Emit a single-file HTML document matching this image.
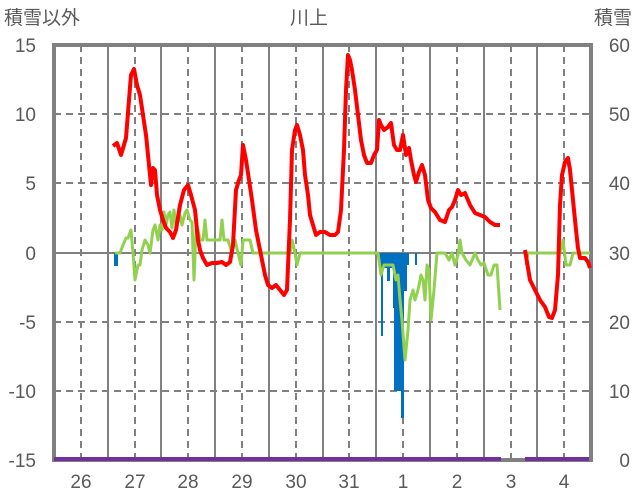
<!DOCTYPE html><html><head><style>body{margin:0;background:#fff}svg{display:block}text{font-family:"Liberation Sans","Noto Sans CJK JP",sans-serif;fill:#595959}</style></head><body>
<svg width="636" height="501" viewBox="0 0 636 501">
<g font-size="19">
<text x="4" y="24">積雪以外</text><text x="309" y="24" text-anchor="middle">川上</text><text x="632" y="24" text-anchor="end">積雪</text>
</g>
<g stroke="#808080" stroke-width="2" stroke-dasharray="7,5">
<line x1="54" y1="114" x2="591" y2="114"/><line x1="54" y1="183" x2="591" y2="183"/><line x1="54" y1="322" x2="591" y2="322"/><line x1="54" y1="391" x2="591" y2="391"/>
<line x1="81" y1="45" x2="81" y2="460"/><line x1="135" y1="45" x2="135" y2="460"/><line x1="188" y1="45" x2="188" y2="460"/><line x1="242" y1="45" x2="242" y2="460"/><line x1="296" y1="45" x2="296" y2="460"/><line x1="349" y1="45" x2="349" y2="460"/><line x1="403" y1="45" x2="403" y2="460"/><line x1="457" y1="45" x2="457" y2="460"/><line x1="511" y1="45" x2="511" y2="460"/><line x1="564" y1="45" x2="564" y2="460"/>
</g>
<g stroke="#808080" stroke-width="2">
<line x1="108" y1="45" x2="108" y2="460"/><line x1="161" y1="45" x2="161" y2="460"/><line x1="215" y1="45" x2="215" y2="460"/><line x1="269" y1="45" x2="269" y2="460"/><line x1="323" y1="45" x2="323" y2="460"/><line x1="376" y1="45" x2="376" y2="460"/><line x1="430" y1="45" x2="430" y2="460"/><line x1="484" y1="45" x2="484" y2="460"/><line x1="537" y1="45" x2="537" y2="460"/>
<line x1="54" y1="253" x2="591" y2="253"/>
</g>
<rect x="54" y="45" width="537" height="415" fill="none" stroke="#808080" stroke-width="4"/>
<g fill="#0070C0">
<rect x="114" y="253" width="4" height="13"/>
<rect x="379" y="253" width="22" height="15"/>
<rect x="381" y="253" width="2" height="83"/>
<rect x="387" y="253" width="3" height="28"/>
<rect x="393" y="253" width="4" height="55"/>
<rect x="395" y="253" width="12" height="38"/>
<rect x="394" y="253" width="10" height="138"/>
<rect x="401" y="253" width="3" height="165"/>
<rect x="406" y="253" width="3" height="12"/>
<rect x="415" y="253" width="2" height="12"/>
</g>
<g stroke="#7030A0" stroke-width="4"><line x1="54" y1="459" x2="501" y2="459"/><line x1="525" y1="459" x2="589" y2="459"/></g>
<g fill="none" stroke="#92D050" stroke-width="3" stroke-linejoin="round">
<polyline points="115,253 120,253 123,245 126,238 128,238 131,230 133,253 135,280 138,265 140,265 142,250 145,240 148,245 150,253 153,230 155,225 158,240 160,225 162,230 164,212 166,225 168,215 170,212 172,228 174,210 176,225 178,222 180,215 182,225 185,213 187,210 190,220 192,222 194,280 196,230 198,230 200,240 203,240 205,220 207,240 220,240 222,220 224,240 228,240 232,253 235,240 238,253 241,265 243,240 250,240 253,253 290,253 292,240 295,253 297,265 300,253 378,253 381,275 384,265 393,265 396,280 398,275 400,300 402,320 405,360 408,330 410,300 413,290 415,300 418,290 421,275 423,280 425,300 427,265 429,270 431,320 434,290 437,253 445,253 449,260 452,253 455,265 458,255 460,240 462,253 466,260 470,265 475,253 478,260 481,265 484,263 488,275 491,275 494,265 497,265 500,310"/>
<polyline points="526,265 528,253 560,253 563,240 566,265 570,265 573,253 590,253"/>
</g>
<g fill="none" stroke="#FF0000" stroke-width="4" stroke-linejoin="round">
<polyline points="113,146 117,143 121,155 126,138 129,100 131,75 134,69 137,85 140,95 143,115 146,135 149,165 151,185 153,168 155,170 157,195 160,210 163,220 166,228 170,232 173,238 176,230 180,205 184,190 188,185 191,195 195,210 198,240 200,250 203,258 207,265 212,263 217,263 222,262 226,265 230,262 233,245 236,190 239,180 241,175 243,145 246,160 249,180 252,200 256,230 259,245 262,260 265,275 268,285 272,288 276,285 280,290 284,295 287,290 290,220 292,150 295,130 297,125 300,135 303,150 305,175 308,195 310,215 313,225 316,235 320,232 325,232 330,235 335,235 338,232 341,210 344,150 346,90 348,55 350,60 352,70 355,90 358,115 361,140 364,155 367,163 371,163 374,155 377,150 379,120 381,125 384,130 388,127 391,123 394,145 397,150 400,150 403,135 406,155 409,148 411,160 414,175 416,182 419,172 422,165 425,175 428,200 431,208 435,212 440,220 445,222 449,210 452,207 455,200 458,190 461,195 465,193 470,205 475,213 480,215 485,217 490,222 495,225 500,225"/>
<polyline points="525,250 527,262 530,280 535,290 540,300 545,307 549,317 552,318 555,310 558,275 560,205 562,175 565,162 568,158 570,170 573,200 576,230 578,248 580,258 585,258 588,262 590,268"/>
</g>
<g font-size="19" text-anchor="end">
<text x="36" y="52">15</text><text x="36" y="121">10</text><text x="36" y="190">5</text><text x="36" y="260">0</text><text x="36" y="329">-5</text><text x="36" y="398">-10</text><text x="36" y="467">-15</text>
</g>
<g font-size="19" text-anchor="end">
<text x="630" y="52">60</text><text x="630" y="121">50</text><text x="630" y="190">40</text><text x="630" y="260">30</text><text x="630" y="329">20</text><text x="630" y="398">10</text><text x="630" y="467">0</text>
</g>
<g font-size="19" text-anchor="middle">
<text x="81" y="488">26</text><text x="135" y="488">27</text><text x="188" y="488">28</text><text x="242" y="488">29</text><text x="296" y="488">30</text><text x="349" y="488">31</text><text x="403" y="488">1</text><text x="457" y="488">2</text><text x="511" y="488">3</text><text x="564" y="488">4</text>
</g>
</svg></body></html>
